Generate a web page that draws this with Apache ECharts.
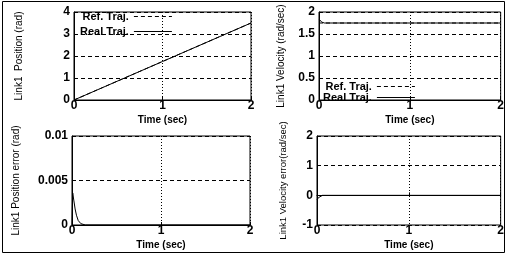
<!DOCTYPE html>
<html>
<head>
<meta charset="utf-8">
<script src="https://cdn.jsdelivr.net/npm/echarts@6/dist/echarts.min.js"></script>
<style>
html, body { margin: 0; padding: 0; background: #fff; }
#main { width: 507px; height: 255px; }
</style>
</head>
<body>
<div id="main"></div>
<script>
var myChart = echarts.init(document.getElementById('main'));

// time samples (sec) and values
var posRef = [[0, 0], [2, 3.5]];
var posReal = [[0, 0], [1, 1.75], [2, 3.5]];
var velRef = [[0, 1.75], [2, 1.75]];
var velReal = [[0, 1.84], [0.01, 1.8], [0.03, 1.77], [0.06, 1.75], [2, 1.75]];
var posErr = [[0, 0], [0.008, 0.0036], [0.02, 0.0028], [0.035, 0.0018], [0.05, 0.0011], [0.07, 0.0005], [0.1, 0.00015], [0.15, 0], [2, 0]];
var velErr = [[0, -0.15], [0.015, -0.08], [0.03, -0.02], [0.06, 0], [2, 0]];

var tickFont = { color: '#000', fontFamily: 'Liberation Sans, Arial', fontWeight: 'bold', fontSize: 12 };

function xAx(grid) {
    return {
        gridIndex: grid, type: 'value', min: 0, max: 2, interval: 1,
        name: 'Time (sec)', nameLocation: 'middle', nameGap: 15,
        nameTextStyle: { color: '#000', fontFamily: 'Liberation Sans, Arial', fontWeight: 'bold', fontSize: 10 },
        axisLine: { lineStyle: { color: '#000' } },
        axisTick: { inside: true, length: 3, lineStyle: { color: '#000' } },
        axisLabel: Object.assign({ margin: 0 }, tickFont),
        splitLine: { show: true, lineStyle: { color: '#000', type: [1, 2] } }
    };
}
function yAx(grid, min, max, interval, name, gap, size) {
    return {
        gridIndex: grid, type: 'value', min: min, max: max, interval: interval,
        name: name, nameLocation: 'middle', nameGap: gap,
        nameTextStyle: { color: '#000', fontFamily: 'Liberation Sans, Arial', fontSize: size },
        axisLine: { lineStyle: { color: '#000' } },
        axisTick: { inside: true, length: 3, lineStyle: { color: '#000' } },
        axisLabel: Object.assign({ margin: 4 }, tickFont),
        splitLine: { show: true, lineStyle: { color: '#000', type: [4, 3] } }
    };
}
function ln(name, x, data, dashed) {
    return {
        name: name, type: 'line', xAxisIndex: x, yAxisIndex: x, data: data,
        showSymbol: false, symbol: 'none', silent: true,
        lineStyle: { color: '#000', width: 1, type: dashed ? [4, 3] : 'solid' },
        itemStyle: { color: '#000' }
    };
}
var gridBox = { show: true, borderColor: '#000', borderWidth: 1, backgroundColor: 'transparent' };
var legendCommon = {
    orient: 'vertical', align: 'right', itemWidth: 38, itemHeight: 2, itemGap: 3,
    selectedMode: false, padding: 0,
    itemStyle: { opacity: 0 },
    lineStyle: { width: 1 },
    textStyle: { color: '#000', fontFamily: 'Liberation Sans, Arial', fontWeight: 'bold', fontSize: 11 },
    data: ['Ref. Traj.', 'Real Traj.']
};

option = {
    animation: false,
    backgroundColor: '#fff',
    grid: [
        Object.assign({ left: 74, top: 12, width: 177, height: 88 }, gridBox),
        Object.assign({ left: 319, top: 12, width: 184, height: 88 }, gridBox),
        Object.assign({ left: 72, top: 136, width: 178, height: 89 }, gridBox),
        Object.assign({ left: 317, top: 136, width: 186, height: 89 }, gridBox)
    ],
    xAxis: [xAx(0), xAx(1), xAx(2), xAx(3)],
    yAxis: [
        yAx(0, 0, 4, 1, 'Link1  Position (rad)', 50, 10),
        yAx(1, 0, 2, 0.5, 'Link1 Velocity (rad/sec)', 33, 10),
        yAx(2, 0, 0.01, 0.005, 'Link1 Position error (rad)', 51, 10),
        yAx(3, -1, 2, 1, 'Link1 Velocity error(rad/sec)', 29, 9.5)
    ],
    legend: [
        Object.assign({ left: 80, top: 11 }, legendCommon, { itemGap: 4 }),
        Object.assign({ left: 323, top: 81 }, legendCommon, { itemGap: 0 })
    ],
    graphic: [{
        type: 'rect', shape: { x: 2.5, y: 1.5, width: 502, height: 251 },
        style: { fill: null, stroke: '#000', lineWidth: 1 }, silent: true
    }],
    series: [
        ln('Ref. Traj.', 0, posRef, true),
        ln('Real Traj.', 0, posReal, false),
        ln('Ref. Traj.', 1, velRef, true),
        ln('Real Traj.', 1, velReal, false),
        ln('Position error', 2, posErr, false),
        ln('Velocity error', 3, velErr, false)
    ]
};
myChart.setOption(option);
</script>
</body>
</html>
